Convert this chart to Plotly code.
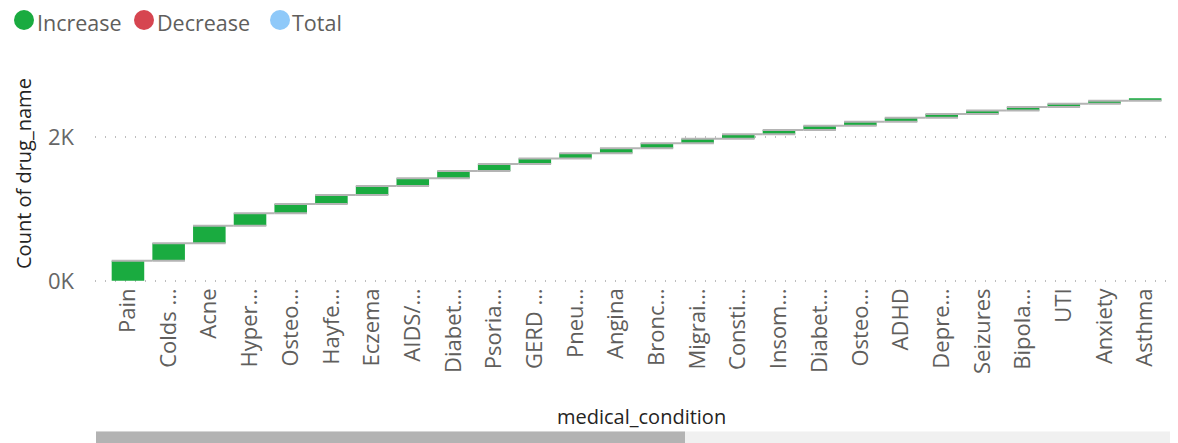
import plotly.graph_objects as go

# visible part of the waterfall (chart is scrolled, remaining categories off-screen)
conditions = [
    "Pain", "Colds & Flu", "Acne", "Hypertension", "Osteoarthritis", "Hayfever",
    "Eczema", "AIDS/HIV", "Diabetes (Type 2)", "Psoriasis", "GERD (Heartburn)",
    "Pneumonia", "Angina", "Bronchitis", "Migraine", "Constipation", "Insomnia",
    "Diabetes (Type 1)", "Osteoporosis", "ADHD", "Depression", "Seizures",
    "Bipolar Disorder", "UTI", "Anxiety", "Asthma",
]
tick_labels = [
    "Pain", "Colds …", "Acne", "Hyper…", "Osteo…", "Hayfe…", "Eczema", "AIDS/…",
    "Diabet…", "Psoria…", "GERD …", "Pneu…", "Angina", "Bronc…", "Migrai…",
    "Consti…", "Insom…", "Diabet…", "Osteo…", "ADHD", "Depre…", "Seizures",
    "Bipola…", "UTI", "Anxiety", "Asthma",
]
drug_counts = [278, 246, 240, 176, 129, 125, 124, 107, 102, 97, 75, 74, 71,
               69, 63, 62, 59, 57, 57, 55, 52, 51, 47, 46, 41, 34]

y_ticks = [0, 2000]
y_tick_text = ["0K", "2K"]

legend_items = ["Increase", "Decrease", "Total"]
legend_colors = ["#1AAB40", "#D64550", "#8FC9F9"]

FONT = "Segoe UI, Open Sans, sans-serif"
GREY_TEXT = "#605E5C"

# the html page has an 8px body margin, so the figure is drawn 8px in from the window edge
OFF = 8
W, H = 1178 - OFF, 443 - OFF
ML, MR, MT, MB = 87, 8, 57, 160
PW, PH = W - ML - MR, H - MT - MB


def px_x(px):
    # window pixel column -> paper x
    return (px - OFF - ML) / PW


def px_y(py):
    # window pixel row -> paper y
    return (H - MB - (py - OFF)) / PH


fig = go.Figure()

fig.add_trace(go.Waterfall(
    x=conditions,
    y=drug_counts,
    measure=["relative"] * len(drug_counts),
    increasing=dict(marker=dict(color="#1AAB40")),
    decreasing=dict(marker=dict(color="#D64550")),
    totals=dict(marker=dict(color="#8FC9F9")),
    connector=dict(mode="spanning", line=dict(color="#B4B4B4", width=2)),
    showlegend=False,
))

# hand-drawn legend (circle + label), Power BI style
legend_circle_x = [24, 144, 280]
legend_text_x = [36, 156, 291]
legend_y = 22.5
shapes = []
annotations = []
for name, col, cx, tx in zip(legend_items, legend_colors, legend_circle_x, legend_text_x):
    shapes.append(dict(
        type="circle", xref="paper", yref="paper",
        xsizemode="pixel", ysizemode="pixel",
        xanchor=px_x(cx), yanchor=px_y(20), x0=-10, x1=10, y0=-10, y1=10,
        fillcolor=col, line=dict(width=0),
    ))
    annotations.append(dict(
        text=name, xref="paper", yref="paper", x=px_x(tx), y=px_y(legend_y),
        xanchor="left", yanchor="middle", showarrow=False, borderpad=0,
        font=dict(size=21.5, color=GREY_TEXT),
    ))

# axis titles
annotations += [
    dict(text="Count of drug_name", xref="paper", yref="paper",
         x=px_x(23), y=px_y(174), textangle=-90, showarrow=False,
         font=dict(size=20, color="#252423"), xanchor="center", yanchor="middle"),
    dict(text="medical_condition", xref="paper", yref="paper",
         x=px_x(641), y=px_y(416), showarrow=False,
         font=dict(size=20, color="#252423"), xanchor="center", yanchor="middle"),
]

# scrollbar track and thumb
shapes += [
    dict(type="rect", xref="paper", yref="paper", x0=px_x(96), x1=px_x(1178),
         y0=px_y(443), y1=px_y(431.5), fillcolor="#F0F0F0", line=dict(width=0), layer="below"),
    dict(type="rect", xref="paper", yref="paper", x0=px_x(96), x1=px_x(685),
         y0=px_y(443), y1=px_y(431.5), fillcolor="#B3B3B3", line=dict(width=0)),
]

fig.update_layout(
    width=W, height=H,
    margin=dict(l=ML, r=MR, t=MT, b=MB, autoexpand=False),
    paper_bgcolor="white", plot_bgcolor="white",
    font=dict(family=FONT, color=GREY_TEXT),
    bargap=0.22,
    showlegend=False,
    xaxis=dict(
        tickmode="array", tickvals=conditions, ticktext=tick_labels,
        tickangle=-90, tickfont=dict(size=22, color=GREY_TEXT),
        range=[-0.81, 25.61], showgrid=False, zeroline=False,
        showline=False, ticks="", automargin=False,
    ),
    yaxis=dict(
        tickmode="array", tickvals=y_ticks, ticktext=y_tick_text,
        tickfont=dict(size=22, color="#666666"),
        range=[-30, 3000], showgrid=True, gridcolor="#BDBDBD",
        griddash="1px,9px", gridwidth=1.5, zeroline=False, showline=False,
        ticks="", ticklabelstandoff=20, automargin=False,
    ),
    annotations=annotations,
    shapes=shapes,
)

fig.write_html("out.html")
